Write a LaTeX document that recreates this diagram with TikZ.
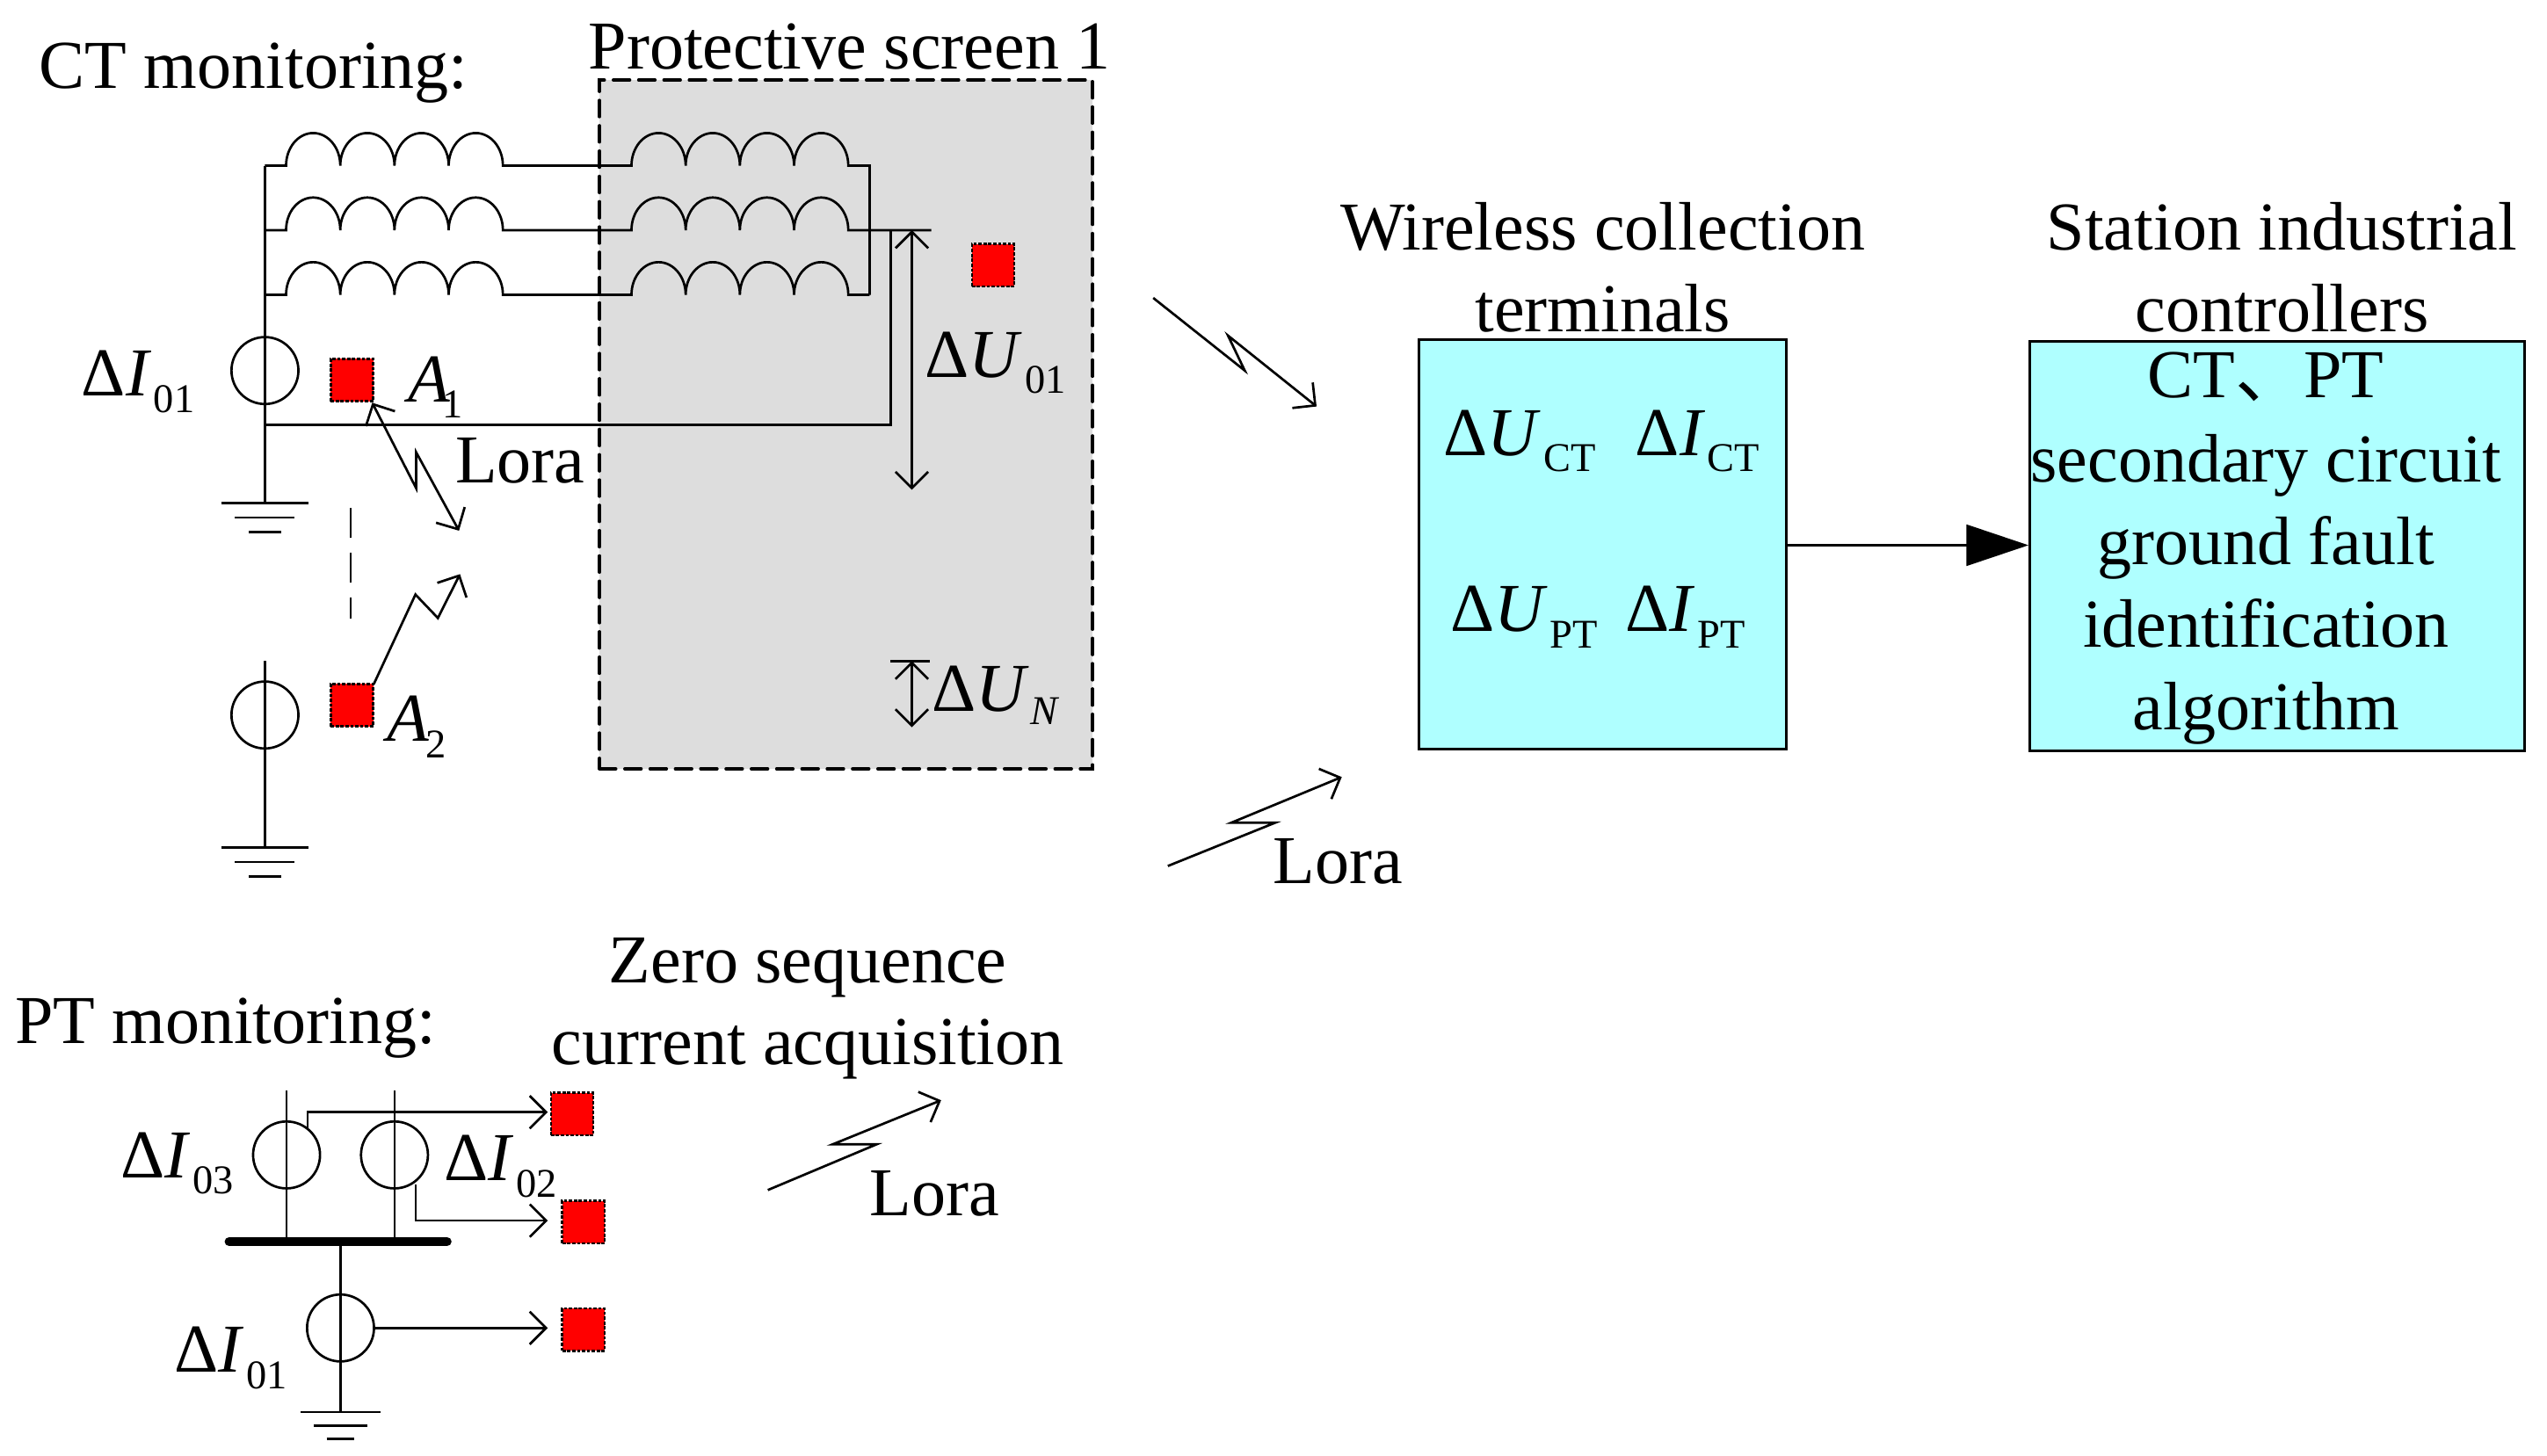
\documentclass[tikz,border=0pt]{standalone}
\usepackage{fontspec}
\setmainfont{Liberation Serif}
\newfontfamily\cjkf{Noto Sans CJK SC}
\usetikzlibrary{arrows.meta}
\definecolor{boxcyan}{HTML}{AFFFFF}
\definecolor{screengrey}{HTML}{DDDDDD}
\newcommand{\subt}[2][10pt]{\raisebox{-#1}{\fontsize{25}{25}\selectfont #2}}
\newcommand{\dl}[2]{Δ\textit{#1}\kern1.5pt\subt{#2}}
\tikzset{
  lbl/.style={inner sep=0pt,anchor=base west,font=\fontsize{42}{50}\selectfont},
  ctr/.style={inner sep=0pt,anchor=base,font=\fontsize{42}{50}\selectfont},
  wire/.style={draw=black,line width=1.45pt},
  barb/.style={wire,-{Straight Barb[length=10pt,width=20pt]}},
  dbarb/.style={wire,{Straight Barb[length=10pt,width=20pt]}-{Straight Barb[length=10pt,width=20pt]}},
  ring/.style={circle,draw=black,line width=1.45pt,minimum size=41pt,inner sep=0pt},
  sensor/.style={rectangle,fill=red,draw=black,dash pattern=on 2pt off 1pt,line width=1.4pt,minimum width=26pt,minimum height=26pt,inner sep=0pt},
  unit/.style={rectangle,fill=boxcyan,draw=black,line width=1.6pt,inner sep=0pt}
}
\begin{document}
\begin{tikzpicture}[x=0.9955pt,y=-1pt]
\useasboundingbox (0,0) rectangle (1567,891.43);
% screen
\node[rectangle,fill=screengrey,draw=black,dash pattern=on 10pt off 5.5pt,line cap=round,line width=2pt,minimum width=302pt,minimum height=422pt,inner sep=0pt] (screen) at (520.5,260) {};
% CT coils
\coordinate (bl1) at (163,101.5); \coordinate (bl2) at (163,141); \coordinate (bl3) at (163,180.6);
\coordinate (a1) at (176,101.5); \coordinate (a2) at (176,141); \coordinate (a3) at (176,180.6);
\coordinate (b1) at (388.5,101.5); \coordinate (b2) at (388.5,141); \coordinate (b3) at (388.5,180.6);
\coordinate (br1) at (535,101.5); \coordinate (br3) at (535,180.6);
\coordinate (tapend) at (573,141); \coordinate (tap) at (548,141); \coordinate (tapl) at (548,260.4); \coordinate (bl4) at (163,260.4);
\draw[wire] (bl1) -- (a1) arc[start angle=180,end angle=0,x radius=16.6pt,y radius=20pt] arc[start angle=180,end angle=0,x radius=16.6pt,y radius=20pt] arc[start angle=180,end angle=0,x radius=16.6pt,y radius=20pt] arc[start angle=180,end angle=0,x radius=16.6pt,y radius=20pt] -- (b1) arc[start angle=180,end angle=0,x radius=16.6pt,y radius=20pt] arc[start angle=180,end angle=0,x radius=16.6pt,y radius=20pt] arc[start angle=180,end angle=0,x radius=16.6pt,y radius=20pt] arc[start angle=180,end angle=0,x radius=16.6pt,y radius=20pt] -- (br1) -- (br3);
\draw[wire] (bl2) -- (a2) arc[start angle=180,end angle=0,x radius=16.6pt,y radius=20pt] arc[start angle=180,end angle=0,x radius=16.6pt,y radius=20pt] arc[start angle=180,end angle=0,x radius=16.6pt,y radius=20pt] arc[start angle=180,end angle=0,x radius=16.6pt,y radius=20pt] -- (b2) arc[start angle=180,end angle=0,x radius=16.6pt,y radius=20pt] arc[start angle=180,end angle=0,x radius=16.6pt,y radius=20pt] arc[start angle=180,end angle=0,x radius=16.6pt,y radius=20pt] arc[start angle=180,end angle=0,x radius=16.6pt,y radius=20pt] -- (tapend);
\draw[wire] (bl3) -- (a3) arc[start angle=180,end angle=0,x radius=16.6pt,y radius=20pt] arc[start angle=180,end angle=0,x radius=16.6pt,y radius=20pt] arc[start angle=180,end angle=0,x radius=16.6pt,y radius=20pt] arc[start angle=180,end angle=0,x radius=16.6pt,y radius=20pt] -- (b3) arc[start angle=180,end angle=0,x radius=16.6pt,y radius=20pt] arc[start angle=180,end angle=0,x radius=16.6pt,y radius=20pt] arc[start angle=180,end angle=0,x radius=16.6pt,y radius=20pt] arc[start angle=180,end angle=0,x radius=16.6pt,y radius=20pt] -- (br3);
\draw[wire] (tap) -- (tapl) -- (bl4);
% left CT branch
\node[ring] (ct1) at (163,227) {};
\node[ring] (ct2) at (163,438) {};
\coordinate (g1) at (163,308); \coordinate (g2) at (163,519); \coordinate (top2) at (163,405);
\draw[wire] (bl1) -- (g1);
\draw[wire] (top2) -- (g2);
\draw[wire] (136,308) -- (190,308) (144.5,317) -- (181,317) (153,326) -- (173,326);
\draw[wire] (136,519) -- (190,519) (144.5,528) -- (181,528) (153,537) -- (173,537);
% sensors
\node[sensor] (A1) at (216.5,232.8) {};
\node[sensor] (A2) at (216.5,432) {};
\node[sensor] (S0) at (611,162.5) {};
\node[sensor] (S3) at (352,682.5) {};
\node[sensor] (S2) at (359,748.7) {};
\node[sensor] (S1) at (359,814.5) {};
% dashed link
\coordinate (d1) at (215.7,311); \coordinate (d2) at (215.7,379);
\draw[wire,dash pattern=on 18.4pt off 9pt] (d1) -- (d2);
% wireless A1, A2
\coordinate (w1a) at (229,246.7); \coordinate (w1b) at (256,299); \coordinate (w1c) at (256,277); \coordinate (w1d) at (282.4,325.1);
\draw[dbarb] (w1a) -- (w1b) -- (w1c) -- (w1d);
\coordinate (w2a) at (230,419); \coordinate (w2b) at (255.6,364.2); \coordinate (w2c) at (269.4,378.6); \coordinate (w2d) at (283,351.7);
\draw[barb] (w2a) -- (w2b) -- (w2c) -- (w2d);
% voltage arrows
\coordinate (u1) at (561,141); \coordinate (u2) at (561,300);
\draw[dbarb] (u1) -- (u2);
\coordinate (n1) at (561,405); \coordinate (n2) at (561,445.5); \coordinate (nl) at (548,405); \coordinate (nr) at (572,405);
\draw[dbarb] (n1) -- (n2);
\draw[wire] (nl) -- (nr);
% far wireless
\coordinate (f1) at (709.5,182.5); \coordinate (f2) at (765.8,227); \coordinate (f3) at (755.5,205.6); \coordinate (f4) at (810,249);
\draw[barb] (f1) -- (f2) -- (f3) -- (f4);
\coordinate (h1) at (718.5,530.5); \coordinate (h2) at (784.5,504); \coordinate (h3) at (757.5,504); \coordinate (h4) at (825.5,476);
\draw[barb] (h1) -- (h2) -- (h3) -- (h4);
\coordinate (k1) at (472.4,729); \coordinate (k2) at (539.3,701); \coordinate (k3) at (512.3,701); \coordinate (k4) at (579,674);
\draw[barb] (k1) -- (k2) -- (k3) -- (k4);
% units
\node[unit,minimum width=225pt,minimum height=251pt] (term) at (986,333.5) {};
\node[unit,minimum width=303pt,minimum height=251pt] (ctrl) at (1401,334.5) {};
\coordinate (lnk) at (0,334);
\draw[wire,line width=2pt,-{Triangle[length=38pt,width=25pt]}] (term.east |- lnk) -- (ctrl.west |- lnk);
% PT part
\node[ring] (pt3) at (176.3,707.5) {};
\node[ring] (pt2) at (242.7,707.5) {};
\node[ring] (pt1) at (209.5,813.5) {};
\coordinate (bus3) at (176.3,760.6); \coordinate (bus2) at (242.7,760.6); \coordinate (bus1) at (209.5,760.6);
\coordinate (t3) at (176.3,668); \coordinate (t2) at (242.7,668); \coordinate (g3) at (209.5,865);
\draw[wire] (t3) -- (bus3); \draw[wire] (t2) -- (bus2); \draw[wire] (bus1) -- (g3);
\coordinate (busl) at (141,760.6); \coordinate (busr) at (275,760.6);
\draw[line width=5.6pt,line cap=round] (busl) -- (busr);
\draw[wire] (185,865) -- (234,865) (193,873.5) -- (226,873.5) (201,881.6) -- (218,881.6);
\coordinate (p3a) at (189.3,691.7); \coordinate (p3b) at (189.3,681.3); \coordinate (p3c) at (337,681.3);
\coordinate (p2a) at (255.7,725.6); \coordinate (p2b) at (255.7,747.7); \coordinate (p2c) at (337,747.7);
\coordinate (p1c) at (337,813.5);
\draw[barb] (p3a) -- (p3b) -- (p3c);
\draw[barb] (p2a) -- (p2b) -- (p2c);
\draw[barb] (pt1.east) -- (p1c);
% labels
\node[lbl] (tCT) at (24,54) {CT monitoring:};
\node[lbl] (tPS) at (362,42.5) {Protective screen 1};
\node[lbl] (tPT) at (9,639.4) {PT monitoring:};
\node[ctr] (tZ1) at (497,602) {Zero sequence};
\node[ctr] (tZ2) at (497,652) {current acquisition};
\node[lbl] (tL1) at (280,296) {Lora};
\node[lbl] (tL2) at (783,541.5) {Lora};
\node[lbl] (tL3) at (535,744.5) {Lora};
\node[ctr] (tW1) at (986,153) {Wireless collection};
\node[ctr] (tW2) at (986,203) {terminals};
\node[ctr] (tS1) at (1404,153) {Station industrial};
\node[ctr] (tS2) at (1404,203) {controllers};
\node[ctr] (c1) at (1394,243.5) {CT{\cjkf 、}PT};
\node[ctr] (c2) at (1394,295) {secondary circuit};
\node[ctr] (c3) at (1394,346) {ground fault};
\node[ctr] (c4) at (1394,396.5) {identification};
\node[ctr] (c5) at (1394,447) {algorithm};
\node[lbl] (i01) at (50,242.5) {\dl{I}{01}};
\node[lbl] (i03) at (74,721.5) {\dl{I}{03}};
\node[lbl] (i02) at (273,723.3) {\dl{I}{02}};
\node[lbl] (i01b) at (107,840.7) {\dl{I}{01}};
\node[lbl] (u01) at (569,231) {\dl{U}{01}};
\node[lbl] (uN) at (573,436) {Δ\textit{U}\kern1pt\subt[8pt]{\textit{N}}};
\node[lbl] (la1) at (251,246) {\textit{A}\kern-5pt\subt{1}};
\node[lbl] (la2) at (238,454) {\textit{A}\kern-2pt\subt{2}};
\node[lbl] (uct) at (888,279) {\dl{U}{CT}};
\node[lbl] (ict) at (1006,279) {\dl{I}{CT}};
\node[lbl] (upt) at (892,387) {\dl{U}{PT}};
\node[lbl] (ipt) at (1000,387) {\dl{I}{PT}};
\end{tikzpicture}
\end{document}
